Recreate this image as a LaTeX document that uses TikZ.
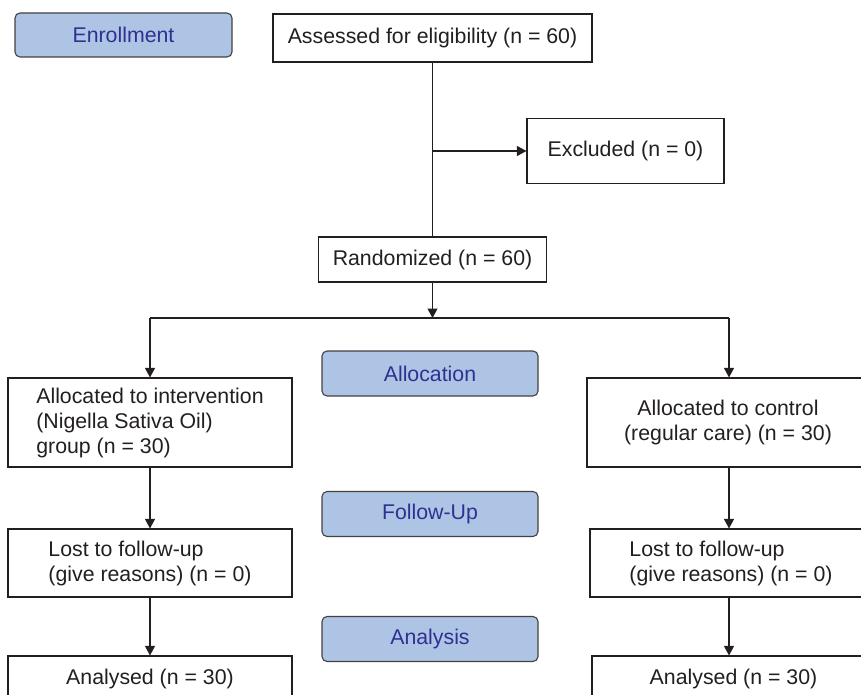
\documentclass[tikz,border=0pt]{standalone}
\usepackage{fontspec}
\setmainfont{Liberation Sans}
\usepackage{xcolor}
\usepackage{tikz}
\usetikzlibrary{arrows.meta}
\definecolor{inkgray}{RGB}{35,31,32}
\definecolor{phasefill}{RGB}{174,196,228}
\definecolor{phasetext}{RGB}{46,49,146}
\tikzset{
  box/.style={draw=inkgray, line width=1.1pt, fill=white, text=inkgray, inner sep=0pt},
  phase/.style={draw=inkgray!85, line width=1.1pt, rounded corners=5pt, fill=phasefill,
    text=phasetext, minimum width=216pt, minimum height=45pt, inner sep=0pt},
  link/.style={draw=inkgray, line width=1.1pt},
  arr/.style={link, -{Triangle[length=9.5pt,width=10pt]}}
}

\begin{document}
\begin{tikzpicture}[x=1pt,y=-1pt,font=\fontsize{21.3}{25}\selectfont]
\clip (0,0) rectangle (861,695);
% Phase labels
\node[phase, minimum width=217pt, minimum height=44pt] (enrol) at (123.5,35) {Enrollment};
\node[phase] (alloc) at (430,373.5) {Allocation};
\node[phase] (follow) at (430,514) {Follow-Up};
\node[phase] (analy) at (430,639) {Analysis};
% Enrollment boxes
\node[box, minimum width=319pt, minimum height=48pt] (assess) at (432.5,38) {Assessed for eligibility (n = 60)};
\node[box, minimum width=197pt, minimum height=65pt] (excl) at (625.5,151) {Excluded (n = 0)};
\node[box, minimum width=228pt, minimum height=45pt] (rand) at (432.5,259.5) {Randomized (n = 60)};
% Allocation boxes
\node[box, minimum width=284pt, minimum height=89pt, align=left] (allocL) at (150,422.5)
  {Allocated to intervention\\(Nigella Sativa Oil)\\group (n = 30)};
\node[box, minimum width=282pt, minimum height=89pt, align=center] (allocR) at (728,422.5)
  {Allocated to control\\(regular care) (n = 30)};
% Follow-up boxes
\node[box, minimum width=284pt, minimum height=68pt, align=left] (lostL) at (150,563)
  {Lost to follow-up\\(give reasons) (n = 0)};
\node[box, minimum width=282pt, minimum height=68pt, align=left] (lostR) at (731,563)
  {Lost to follow-up\\(give reasons) (n = 0)};
% Analysis boxes
\node[box, minimum width=284pt, minimum height=46pt] (analL) at (150,679) {Analysed (n = 30)};
\node[box, minimum width=283pt, minimum height=46pt] (analR) at (733.5,679) {Analysed (n = 30)};
% Connectors
\draw[link] (assess.south) -- (rand.north);
\coordinate (exjoin) at (assess.south |- excl.west);
\draw[arr] (exjoin) -- (excl.west);
\coordinate (split) at (432.5,318);
\coordinate (splitL) at (allocL.north |- split);
\coordinate (splitR) at (729,318);
\draw[arr] (rand.south) -- (split);
\draw[link] (splitL) -- (splitR);
\draw[arr] (splitL) -- (allocL.north);
\draw[arr] (splitR) -- (splitR |- allocR.north);
\draw[arr] (allocL.south) -- (lostL.north);
\draw[arr] (lostL.south) -- (analL.north);
\draw[arr] (allocR.south -| splitR) -- (splitR |- lostR.north);
\draw[arr] (lostR.south -| splitR) -- (splitR |- analR.north);
\end{tikzpicture}
\end{document}
